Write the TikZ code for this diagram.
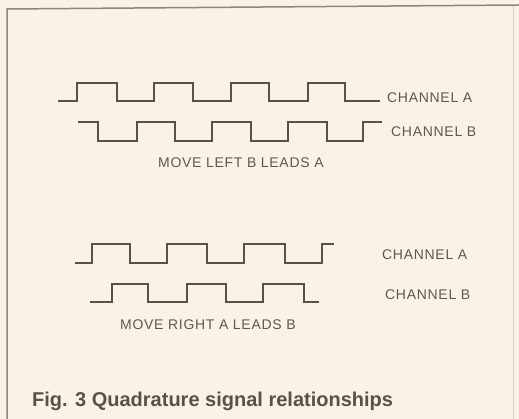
\documentclass[tikz,border=0pt]{standalone}
\usepackage{fontspec}
\setmainfont{Liberation Sans}
\definecolor{paper}{HTML}{FBF2E7}
\definecolor{ink}{HTML}{5B5049}
\definecolor{txt}{HTML}{5F5651}
\definecolor{frame}{HTML}{8C8680}
\begin{document}
\begin{tikzpicture}[x=1pt,y=-1pt,
  wave/.style={draw=ink,line width=2.4pt,line join=miter},
  lbl/.style={anchor=west,inner sep=0pt,text=txt,font=\fontsize{14}{16}\selectfont\addfontfeature{LetterSpace=5}},
  figcaption/.style={anchor=west,inner sep=0pt,text=ink,font=\fontsize{20}{24}\selectfont\bfseries}]
\fill[paper] (0,0) rectangle (519,419);
\useasboundingbox (0,0) rectangle (519,419);
% frame
\draw[frame,line width=1.5pt] (7,419) -- (7,9) -- (519,5);
\draw[frame!40,line width=1pt] (513,6) -- (513,419);
% top channel A
\draw[wave] (58,101) -- (77,101) -- (77,83) -- (117,83) -- (117,101) -- (154,101) -- (154,83) -- (193,83) -- (193,101) -- (231,101) -- (231,83) -- (269,83) -- (269,101) -- (308,101) -- (308,83) -- (345,83) -- (345,101) -- (380,101);
% top channel B
\draw[wave] (78,122) -- (98,122) -- (98,141) -- (137,141) -- (137,122) -- (175,122) -- (175,141) -- (212,141) -- (212,122) -- (251,122) -- (251,141) -- (288,141) -- (288,122) -- (327,122) -- (327,141) -- (363,141) -- (363,122) -- (382,122);
% bottom channel A
\draw[wave] (75,263) -- (92,263) -- (92,244) -- (130,244) -- (130,263) -- (167,263) -- (167,244) -- (207,244) -- (207,263) -- (244,263) -- (244,244) -- (285,244) -- (285,263) -- (322,263) -- (322,244) -- (334,244);
% bottom channel B
\draw[wave] (90,302) -- (112,302) -- (112,284) -- (148,284) -- (148,302) -- (187,302) -- (187,284) -- (226,284) -- (226,302) -- (263,302) -- (263,284) -- (304,284) -- (304,302) -- (319,302);
% labels
\node[lbl] (ta) at (387,98) {CHANNEL A};
\node[lbl] (tb) at (391,132) {CHANNEL B};
\node[lbl] (tm) at (158,163) {MOVE LEFT B LEADS A};
\node[lbl] (ba) at (382,255) {CHANNEL A};
\node[lbl] (bb) at (385,295) {CHANNEL B};
\node[lbl] (bm) at (120,325) {MOVE RIGHT A LEADS B};
\node[figcaption] (fig) at (32,401) {Fig. 3 Quadrature signal relationships};
\end{tikzpicture}
\end{document}
